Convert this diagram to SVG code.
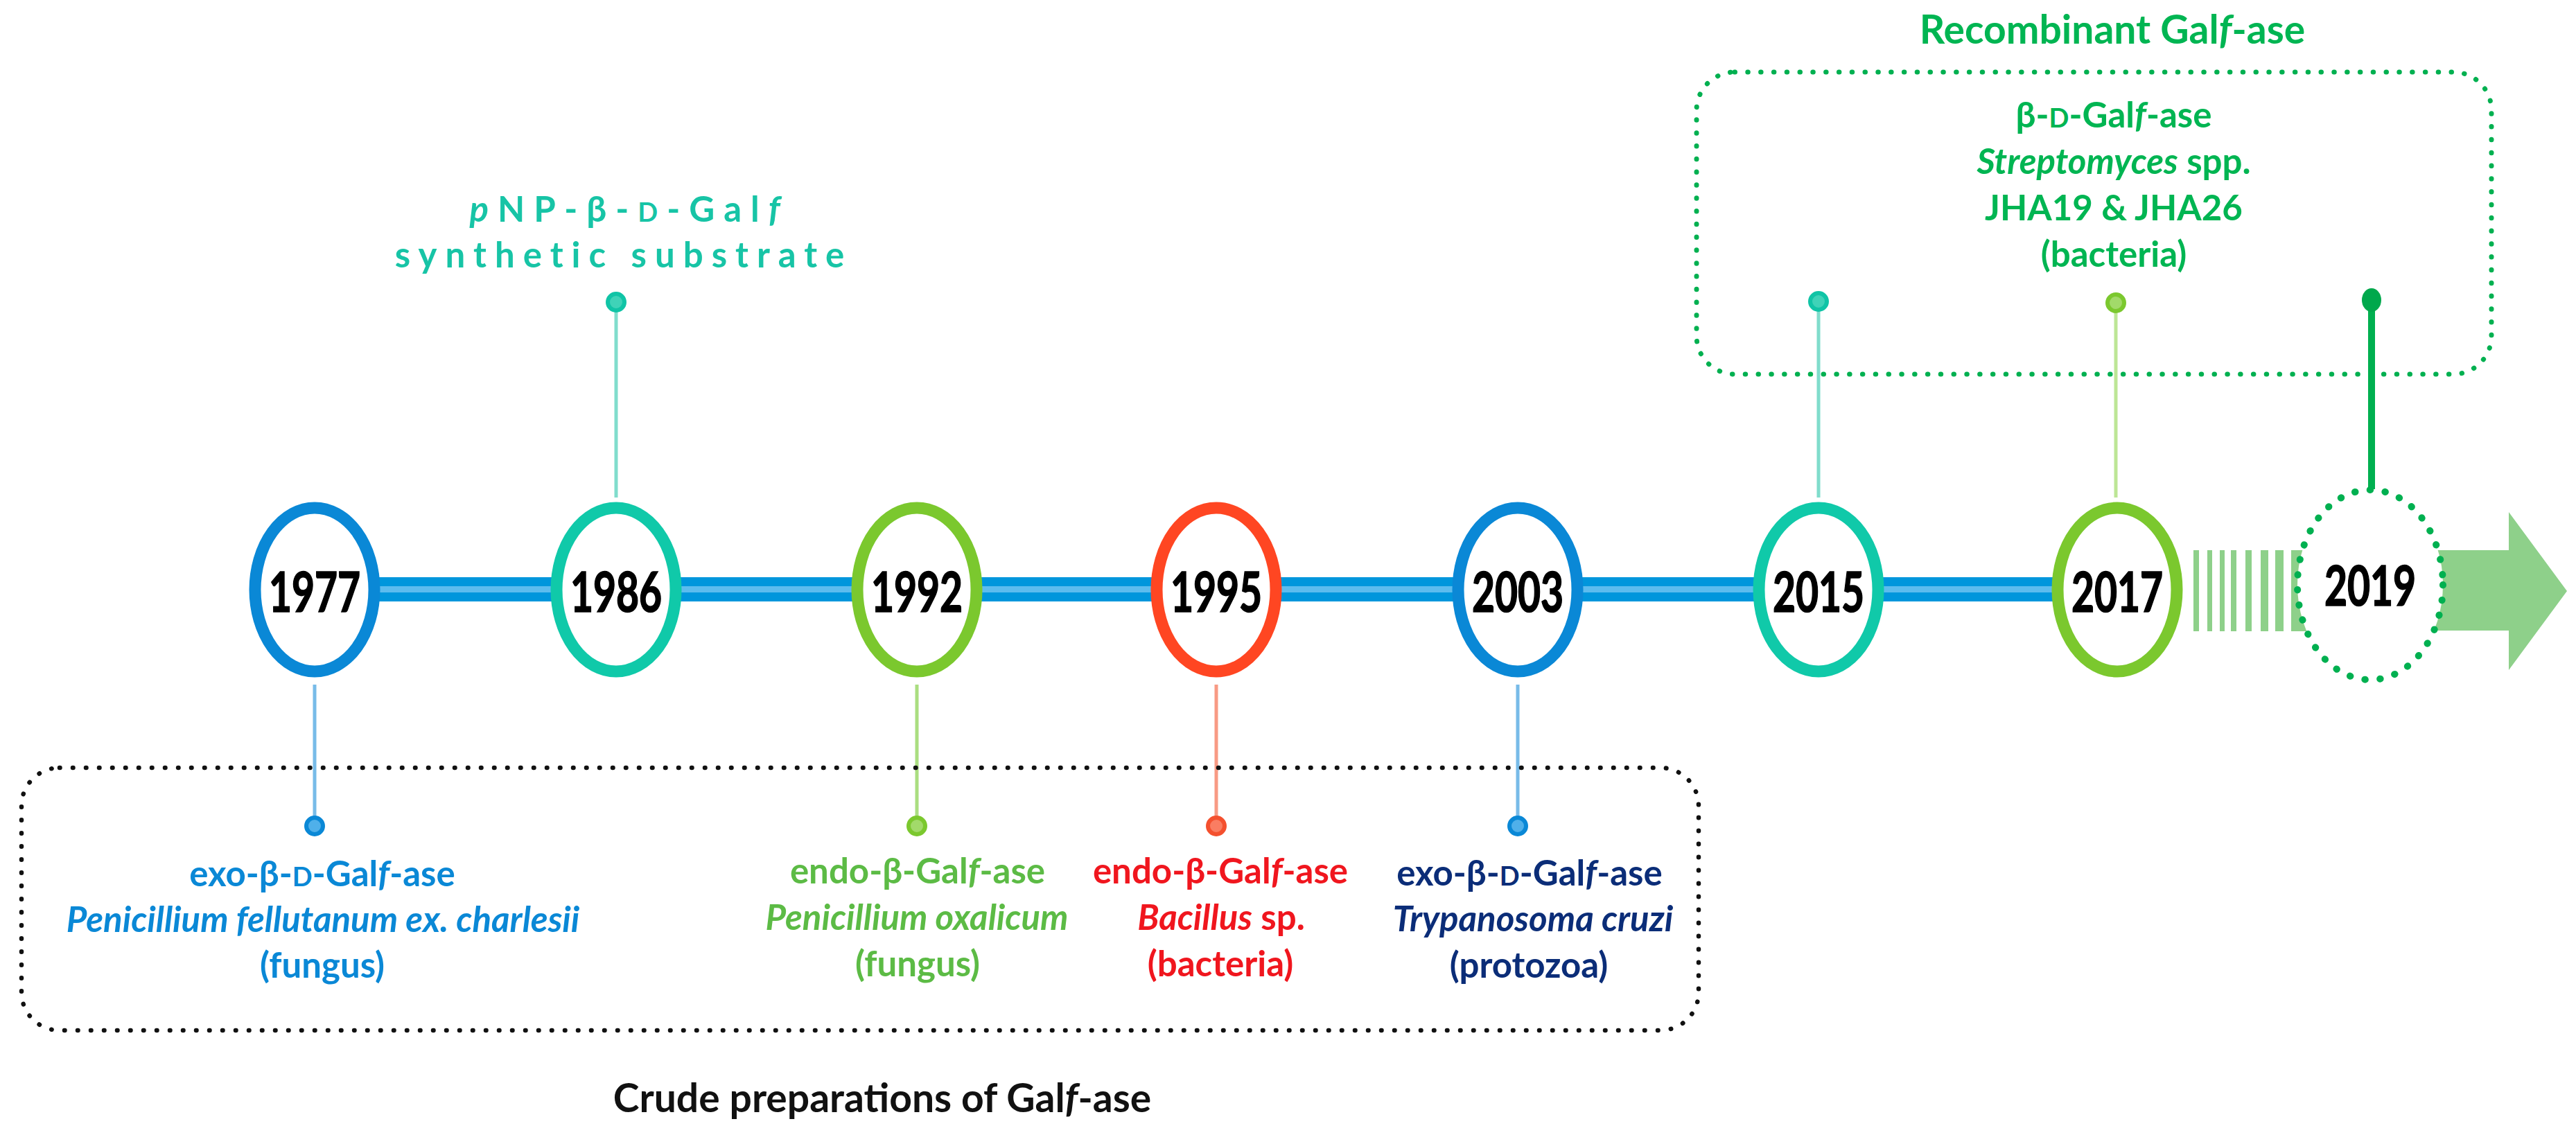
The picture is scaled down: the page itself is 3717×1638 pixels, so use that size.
<svg xmlns="http://www.w3.org/2000/svg" width="3717" height="1638" viewBox="0 0 3717 1638">
<style>
.t{font-family:Lato,"Liberation Sans",sans-serif;font-weight:700;text-anchor:middle}
.lab{font-size:51px}
.it{font-style:italic}
.sc{font-size:38px}
.yr{font-size:57px;fill:#000;stroke:#000;stroke-width:1.2}
.ttl{font-size:57px}
.ring{fill:#fff;stroke-width:17}
.stem{stroke-width:5;fill:none}
.blue{fill:#0A88D6}
.teal{fill:#17C4A6}
.green{fill:#5CBB45}
.red{fill:#F0161E}
.navy{fill:#0B2D78}
.rg{fill:#00B552}
</style>
<rect width="3717" height="1638" fill="#fff"/>

<g id="connectors">
  <rect x="454" y="833" width="2600" height="35" fill="#0096DC"/>
  <rect x="454" y="846" width="2600" height="9" fill="#5CBCEE"/>
  <line class="stem" x1="454" y1="988" x2="454" y2="1180" stroke="#78BBE8"/>
  <line class="stem" x1="889" y1="440" x2="889" y2="718" stroke="#80DDCC"/>
  <line class="stem" x1="1323" y1="988" x2="1323" y2="1180" stroke="#AADE80"/>
  <line class="stem" x1="1755" y1="988" x2="1755" y2="1180" stroke="#F89A84"/>
  <line class="stem" x1="2190" y1="988" x2="2190" y2="1180" stroke="#78BBE8"/>
  <line class="stem" x1="2624" y1="440" x2="2624" y2="718" stroke="#80DDCC"/>
  <line class="stem" x1="3053" y1="440" x2="3053" y2="718" stroke="#BDE696"/>
  <line x1="3422" y1="440" x2="3422" y2="706" stroke="#00B050" stroke-width="10"/>
  <g fill="#8ED08A">
    <rect x="3165" y="794" width="8" height="117"/>
    <rect x="3185" y="794" width="7" height="117"/>
    <rect x="3203" y="794" width="7" height="117"/>
    <rect x="3219" y="794" width="8" height="117"/>
    <rect x="3240" y="794" width="9" height="117"/>
    <rect x="3262" y="794" width="11" height="117"/>
    <rect x="3283" y="794" width="12" height="117"/>
    <rect x="3306" y="794" width="30" height="117"/>
    <polygon points="3500,794 3620,794 3620,739 3704,853 3620,967 3620,910 3500,910"/>
  </g>
</g>

<g id="box-crude">
  <rect x="31" y="1108" width="2420" height="379" rx="55" fill="none" stroke="#111" stroke-width="6.5" stroke-linecap="round" stroke-dasharray="0.5 18.5"/>
  <text class="t ttl" x="1273" y="1605" fill="#111">Crude preparations of Gal<tspan class="it">f</tspan>-ase</text>
</g>

<g id="box-recombinant">
  <rect x="2448" y="104" width="1147" height="436" rx="55" fill="none" stroke="#00B050" stroke-width="7" stroke-linecap="round" stroke-dasharray="0.5 18.3"/>
  <text class="t ttl rg" x="3048" y="63">Recombinant Gal<tspan class="it">f</tspan>-ase</text>
  <text class="t lab rg" x="3050" y="184">β-<tspan class="sc">D</tspan>-Gal<tspan class="it">f</tspan>-ase</text>
  <text class="t lab rg" x="3050" y="251"><tspan class="it">Streptomyces</tspan> spp.</text>
  <text class="t lab rg" x="3050" y="318">JHA19 &amp; JHA26</text>
  <text class="t lab rg" x="3050" y="385">(bacteria)</text>
</g>

<g id="node-1977">
  <ellipse class="ring" cx="454" cy="851" rx="86" ry="118" stroke="#0A88D6"/>
  <text class="t yr" transform="translate(454,883) scale(1,1.4)">1977</text>
  <circle cx="454" cy="1192" r="12" fill="#4FB0EA" stroke="#0A88D6" stroke-width="6"/>
  <text class="t lab blue" x="465" y="1279">exo-β-<tspan class="sc">D</tspan>-Gal<tspan class="it">f</tspan>-ase</text>
  <text class="t lab blue it" x="466" y="1345">Penicillium fellutanum ex. charlesii</text>
  <text class="t lab blue" x="465" y="1411">(fungus)</text>
</g>

<g id="node-1986">
  <ellipse class="ring" cx="889" cy="851" rx="86" ry="118" stroke="#10C9A9"/>
  <text class="t yr" transform="translate(889,883) scale(1,1.4)">1986</text>
  <circle cx="889" cy="436" r="12" fill="#3FD3B8" stroke="#10C4A6" stroke-width="6"/>
  <text class="t lab teal" x="908" y="320" letter-spacing="13"><tspan class="it">p</tspan>NP-β-<tspan class="sc">D</tspan>-Gal<tspan class="it">f</tspan></text>
  <text class="t lab teal" x="900" y="386" letter-spacing="12">synthetic substrate</text>
</g>

<g id="node-1992">
  <ellipse class="ring" cx="1323" cy="851" rx="86" ry="118" stroke="#7BC82E"/>
  <text class="t yr" transform="translate(1323,883) scale(1,1.4)">1992</text>
  <circle cx="1323" cy="1192" r="12" fill="#A2DA6A" stroke="#7BC82E" stroke-width="6"/>
  <text class="t lab green" x="1324" y="1275">endo-β-Gal<tspan class="it">f</tspan>-ase</text>
  <text class="t lab green it" x="1323" y="1342">Penicillium oxalicum</text>
  <text class="t lab green" x="1324" y="1409">(fungus)</text>
</g>

<g id="node-1995">
  <ellipse class="ring" cx="1755" cy="851" rx="86" ry="118" stroke="#FF4622"/>
  <text class="t yr" transform="translate(1755,883) scale(1,1.4)">1995</text>
  <circle cx="1755" cy="1192" r="12" fill="#FA7D62" stroke="#F4502E" stroke-width="6"/>
  <text class="t lab red" x="1761" y="1275">endo-β-Gal<tspan class="it">f</tspan>-ase</text>
  <text class="t lab red" x="1762" y="1342"><tspan class="it">Bacillus</tspan> sp.</text>
  <text class="t lab red" x="1761" y="1409">(bacteria)</text>
</g>

<g id="node-2003">
  <ellipse class="ring" cx="2190" cy="851" rx="86" ry="118" stroke="#0A88D6"/>
  <text class="t yr" transform="translate(2190,883) scale(1,1.4)">2003</text>
  <circle cx="2190" cy="1192" r="12" fill="#4FB0EA" stroke="#0A88D6" stroke-width="6"/>
  <text class="t lab navy" x="2207" y="1278">exo-β-<tspan class="sc">D</tspan>-Gal<tspan class="it">f</tspan>-ase</text>
  <text class="t lab navy it" x="2212" y="1344">Trypanosoma cruzi</text>
  <text class="t lab navy" x="2206" y="1411">(protozoa)</text>
</g>

<g id="node-2015">
  <ellipse class="ring" cx="2624" cy="851" rx="86" ry="118" stroke="#10C9A9"/>
  <text class="t yr" transform="translate(2624,883) scale(1,1.4)">2015</text>
  <circle cx="2624" cy="435" r="12" fill="#3FD3B8" stroke="#10C4A6" stroke-width="6"/>
</g>

<g id="node-2017">
  <ellipse class="ring" cx="3055" cy="851" rx="86" ry="118" stroke="#7BC82E"/>
  <text class="t yr" transform="translate(3055,883) scale(1,1.4)">2017</text>
  <circle cx="3053" cy="437" r="12" fill="#A2DA6A" stroke="#7BC82E" stroke-width="6"/>
</g>

<g id="node-2019">
  <ellipse cx="3420" cy="844" rx="105" ry="137" fill="#fff" stroke="#00B050" stroke-width="10" stroke-linecap="round" stroke-dasharray="0.5 21.5"/>
  <text class="t yr" transform="translate(3420,874) scale(1,1.4)">2019</text>
  <ellipse cx="3422" cy="433" rx="14" ry="17" fill="#00A84C"/>
</g>
</svg>
